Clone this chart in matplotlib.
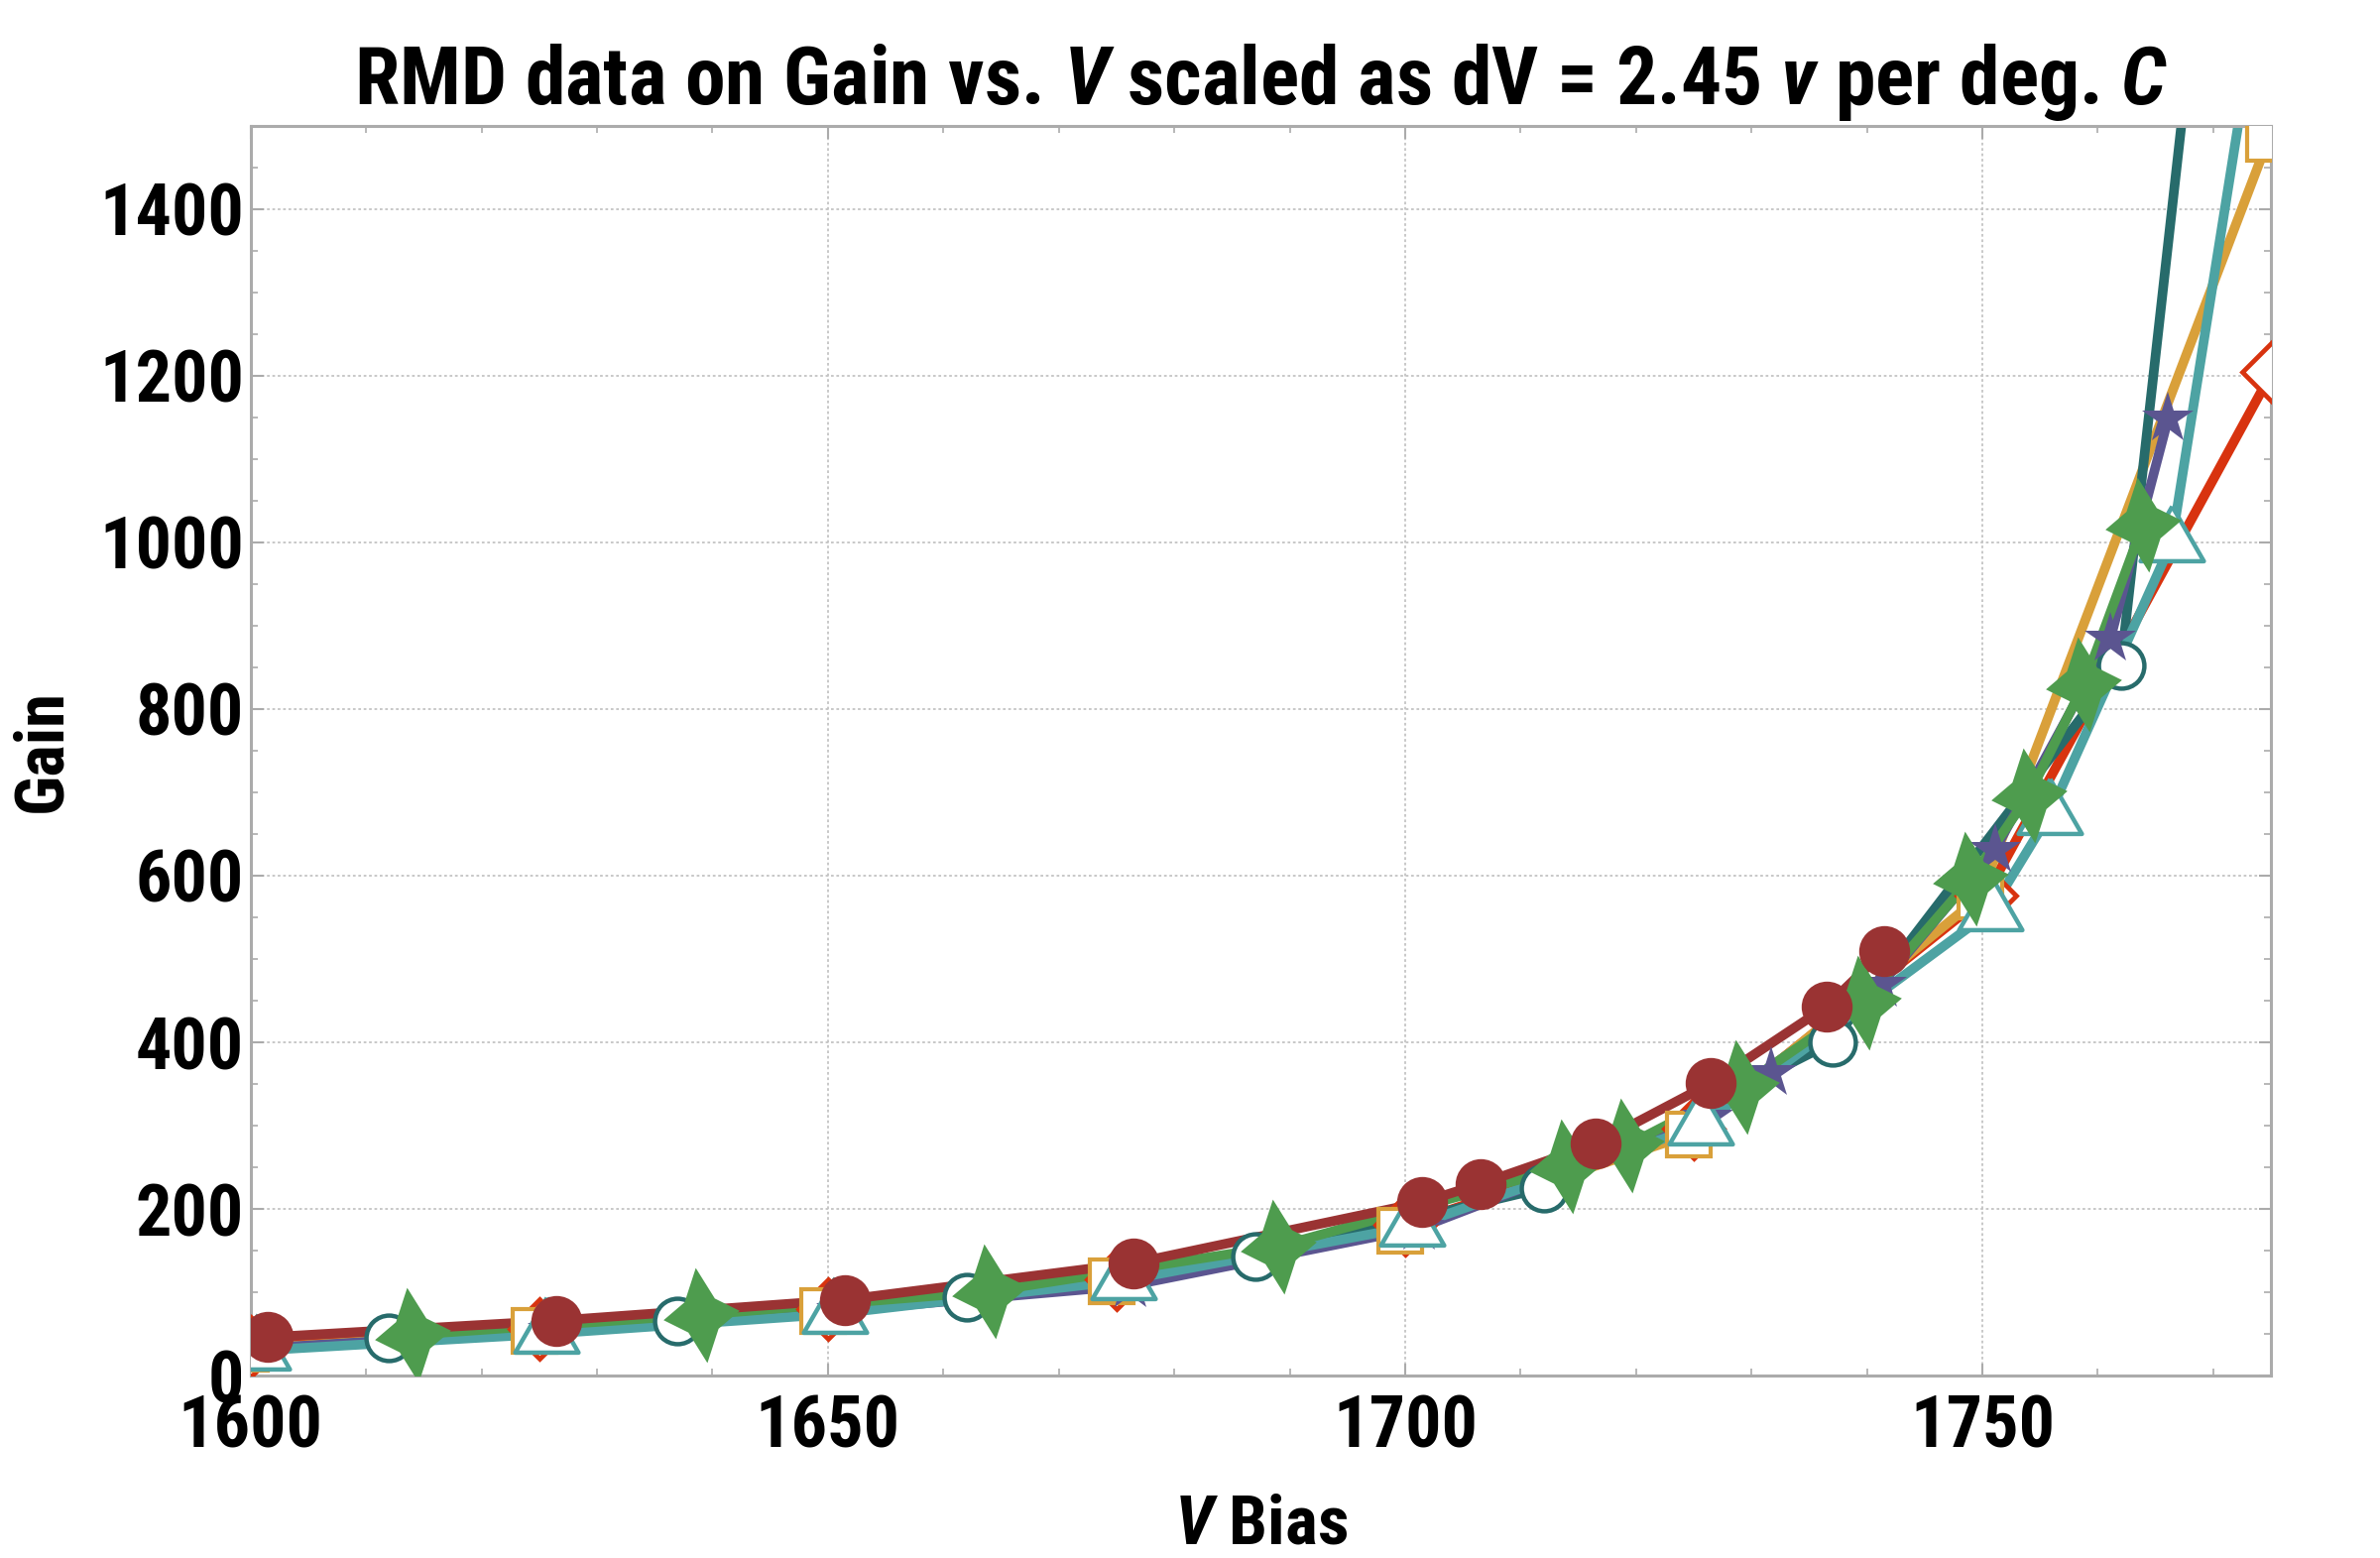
import numpy as np
import matplotlib
matplotlib.use("Agg")
import matplotlib.pyplot as plt
from matplotlib.ticker import MultipleLocator
from matplotlib import font_manager as fm

# ---------------- data ----------------
red_diamond_x = [1600, 1625, 1650, 1675, 1700, 1725, 1750.3, 1775.1]
red_diamond_y = [35, 56, 80, 115, 181, 296, 576, 1205]

orange_square_x = [1599.6, 1624.6, 1649.6, 1674.6, 1699.6, 1724.6, 1749.8, 1774.8]
orange_square_y = [32, 54, 77, 113, 174, 289, 575, 1485]

teal_circle_x = [1612, 1637, 1662, 1687, 1712, 1737, 1762, 1787]
teal_circle_y = [45, 66, 94, 143, 225, 400, 852, 3950]

purple_star_x = [1601.2, 1626.2, 1651.2, 1676.2, 1701.2, 1726.2, 1731.7, 1741.2, 1751.1, 1761.1, 1766.1]
purple_star_y = [33, 54, 78, 108, 177, 310, 363, 469, 631, 885, 1149]

triangle_x = [1600.6, 1625.6, 1650.6, 1675.6, 1700.6, 1725.6, 1750.7, 1755.8, 1766.4, 1776.4]
triangle_y = [30, 50, 74, 114, 179, 300, 557, 673, 1000, 1870]

green_x = [1614, 1639, 1664, 1689, 1714, 1719.2, 1729.1, 1739.7, 1749, 1754, 1758.8, 1763.9]
green_y = [49, 73, 101, 155, 251, 276, 347, 448, 596, 696, 830, 1021]

darkred_x = [1601.5, 1626.5, 1651.5, 1676.5, 1701.5, 1706.5, 1716.5, 1726.5, 1736.5, 1741.5]
darkred_y = [46, 66, 91, 135, 208, 230, 278, 351, 443, 510]

x_ticks = [1600, 1650, 1700, 1750]
y_ticks = [0, 200, 400, 600, 800, 1000, 1200, 1400]

title_text = "RMD data on Gain vs. $V$ scaled as dV = 2.45 $v$ per deg. $C$"
xlabel_text = "$V$ Bias"
ylabel_text = "Gain"

# ---------------- font choice: a bold condensed face if one is installed ----------------
available = {f.name for f in fm.fontManager.ttflist}
preferred = ["Liberation Sans Narrow", "Roboto Condensed", "Open Sans Condensed",
             "DejaVu Sans Condensed", "Noto Sans Condensed", "Arial Narrow"]
FAM = None
for p in preferred:
    if p in available:
        FAM = p
        break
if FAM is None:
    extra = sorted(n for n in available if ("Condensed" in n or "Narrow" in n))
    FAM = extra[0] if extra else "Liberation Sans"
if FAM not in available:
    FAM = "DejaVu Sans"

plt.rcParams["font.family"] = [FAM, "DejaVu Sans"]
plt.rcParams["font.weight"] = "bold"
plt.rcParams["mathtext.fontset"] = "custom"
plt.rcParams["mathtext.it"] = FAM + ":italic:bold"
plt.rcParams["mathtext.rm"] = FAM + ":bold"
plt.rcParams["mathtext.bf"] = FAM + ":bold"


def star4(rot_deg=7.0, inner=0.45, hscale=0.8):
    verts = []
    for k in range(8):
        ang = np.deg2rad(90 + 45 * k)
        r = 1.0 if k % 2 == 0 else inner
        vx, vy = r * np.cos(ang), r * np.sin(ang)
        if k % 4 == 2:
            vx *= hscale
        verts.append((vx, vy))
    t = np.deg2rad(rot_deg)
    rot = [(vx * np.cos(t) - vy * np.sin(t), vx * np.sin(t) + vy * np.cos(t)) for vx, vy in verts]
    rot.append(rot[0])
    return rot


tri = [(0.0, 0.577), (-0.5, -0.289), (0.5, -0.289), (0.0, 0.577)]

series = [
    dict(x=red_diamond_x, y=red_diamond_y, color="#D8330F", marker="D", ms=31, mfc="white", mew=3.4),
    dict(x=orange_square_x, y=orange_square_y, color="#D9A03A", marker="s", ms=32, mfc="white", mew=3.0),
    dict(x=teal_circle_x, y=teal_circle_y, color="#276B6B", marker="o", ms=33, mfc="white", mew=3.2),
    dict(x=purple_star_x, y=purple_star_y, color="#5B5590", marker="*", ms=39, mfc=None, mew=0),
    dict(x=triangle_x, y=triangle_y, color="#4DA3A3", marker=tri, ms=53, mfc="white", mew=3.2),
    dict(x=green_x, y=green_y, color="#4E9C4E", marker=star4(), ms=69, mfc=None, mew=0),
    dict(x=darkred_x, y=darkred_y, color="#9A3333", marker="o", ms=37, mfc=None, mew=0),
]

fig = plt.figure(figsize=(24, 15.71), dpi=100)
ax = fig.add_axes([0.1053, 0.1171, 0.8489, 0.8021])

# lines first
for i, s in enumerate(series):
    ax.plot(s["x"], s["y"], color=s["color"], lw=7.0, zorder=2 + i * 0.01,
            solid_joinstyle="round", solid_capstyle="round")
# markers on top
for i, s in enumerate(series):
    mfc = s["mfc"] if s["mfc"] is not None else s["color"]
    ax.plot(s["x"], s["y"], linestyle="none", marker=s["marker"], ms=s["ms"],
            mfc=mfc, mec=s["color"], mew=s["mew"], zorder=3 + i * 0.01)

ax.set_xlim(1600, 1775)
ax.set_ylim(0, 1500)
ax.set_xticks(x_ticks)
ax.set_yticks(y_ticks)
ax.xaxis.set_minor_locator(MultipleLocator(10))
ax.yaxis.set_minor_locator(MultipleLocator(50))

ax.set_axisbelow(True)
ax.grid(which="major", color="#c4c4c4", linestyle=(0, (1.5, 1.5)), linewidth=1.3)

for sp in ax.spines.values():
    sp.set_color("#ababab")
    sp.set_linewidth(2.2)

ax.tick_params(which="both", direction="in", top=True, right=True, color="#ababab")
ax.tick_params(which="major", length=9, width=1.5)
ax.tick_params(which="minor", length=5, width=1.2)
ax.tick_params(axis="x", which="major", pad=13, labelsize=52)
ax.tick_params(axis="y", which="major", pad=5, labelsize=52)

title = ax.set_title(title_text, fontsize=57, fontweight="bold", pad=16)
ax.set_xlabel(xlabel_text, fontsize=52, fontweight="bold")
ax.set_ylabel(ylabel_text, fontsize=52, fontweight="bold")
ax.xaxis.set_label_coords(0.5, -0.094)
ax.yaxis.set_label_coords(-0.087, 0.5)

# fit text sizes to the widths measured on the reference (pixels)
fig.canvas.draw()
r = fig.canvas.get_renderer()


def fit(text_obj, target_w, horizontal=True):
    bb = text_obj.get_window_extent(renderer=r)
    w = bb.width if horizontal else bb.height
    if w > 0:
        text_obj.set_fontsize(text_obj.get_fontsize() * target_w / w)


fit(title, 1830)
fit(ax.xaxis.label, 175)
fit(ax.yaxis.label, 124, horizontal=False)
ylabs = [t for t in ax.get_yticklabels() if t.get_text() == "1400"]
if ylabs:
    bb = ylabs[0].get_window_extent(renderer=r)
    new = 52 * 146 / bb.width if bb.width > 0 else 52
    new = min(new, 62)
    ax.tick_params(axis="both", which="major", labelsize=new)
for lab in ax.get_xticklabels() + ax.get_yticklabels():
    lab.set_fontweight("bold")

fig.savefig("out.png", dpi=100, facecolor="white")
